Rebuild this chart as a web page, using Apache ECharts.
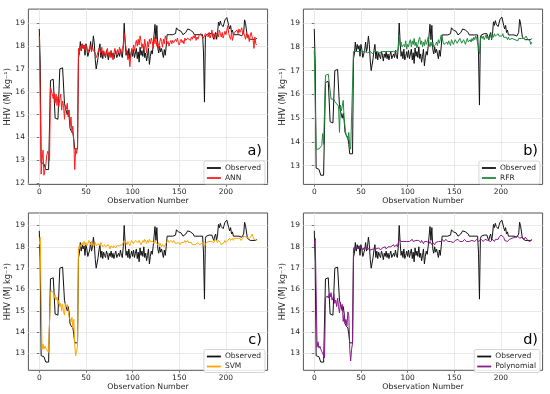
<!DOCTYPE html>
<html>
<head>
<meta charset="utf-8">
<script src="https://cdn.jsdelivr.net/npm/echarts@6/dist/echarts.min.js"></script>
<style>html,body{margin:0;padding:0;background:#fff;}#c{width:550px;height:394px;}</style>
</head>
<body>
<div id="c"></div>
<script>
var xTicks = [0, 50, 100, 150, 200];
var yTicksA = [12, 13, 14, 15, 16, 17, 18, 19];
var yTicksB = [13, 14, 15, 16, 17, 18, 19];

var observed = [
18.75,17.3,12.9,12.85,12.85,12.85,12.85,12.6,12.6,12.55,
12.6,12.6,16.5,16.55,16.5,16.55,16.55,14.85,14.8,14.85,
14.8,14.8,17.0,17.05,17.0,17.05,17.0,15.5,15.3,15.3,
15.0,15.2,14.9,14.4,14.3,14.3,14.2,13.9,13.5,13.5,
13.5,13.5,17.5,17.7,18.2,17.8,18.1,17.9,18.05,17.6,
18.1,17.9,17.55,17.6,17.85,18.2,17.8,18.0,18.45,18.1,
17.4,17.0,17.0,17.5,17.85,18.1,17.5,17.8,17.45,17.75,
17.6,17.5,17.8,17.65,17.4,17.7,17.55,17.8,17.5,17.7,
17.45,17.65,17.8,17.5,17.45,17.7,17.55,17.85,17.6,17.5,
18.0,19.0,18.2,17.6,17.8,17.5,17.9,17.45,17.6,17.8,
17.55,17.85,17.5,17.7,17.9,17.45,17.75,17.3,17.95,17.6,
17.8,17.55,18.0,17.5,17.7,17.35,17.6,17.9,17.2,17.55,
17.8,17.65,18.0,18.5,18.95,18.3,18.9,17.9,17.7,18.0,
17.75,17.9,17.7,17.5,17.85,17.6,18.0,18.5,18.5,18.45,
18.5,18.55,18.5,18.5,18.45,18.5,18.55,18.8,18.75,18.7,
18.7,18.7,18.65,18.7,18.5,18.5,18.5,18.6,18.65,18.75,
18.75,18.75,18.7,18.75,18.75,18.6,18.5,18.5,18.45,18.5,
18.5,18.55,18.5,18.5,18.55,18.5,17.7,15.55,18.4,18.5,
18.55,18.5,18.55,18.55,18.5,18.55,18.4,18.3,18.5,18.6,
18.3,18.55,19.05,18.9,19.1,18.95,19.0,18.85,19.0,19.15,
19.1,19.25,19.2,18.9,18.75,18.9,18.6,18.7,18.5,18.5,
18.55,18.5,18.5,18.45,18.5,18.55,18.5,18.45,18.5,18.6,
19.15,19.0,19.05,18.4,18.35,18.35,18.3,18.35,18.35,18.3,
18.35,18.3,18.3,18.35
];

var ann = [
18.45,15.8,12.4,13.0,13.45,12.35,12.3,12.8,13.2,13.4,13.3,13.0,
16.2,16.2,16.15,15.7,15.95,15.5,15.9,15.4,15.8,15.35,
15.7,15.9,15.2,15.6,15.4,14.8,15.4,15.25,15.5,14.9,
15.2,14.5,14.9,14.2,14.5,13.8,12.6,13.5,13.3,13.6,
17.9,17.7,18.0,17.85,18.1,17.9,18.05,17.8,18.05,17.95,
17.7,17.85,17.9,18.0,17.75,17.95,17.8,17.85,17.7,17.5,
17.6,17.75,17.9,17.85,17.7,17.95,17.6,17.8,17.75,17.55,
17.8,17.9,17.6,17.75,17.5,17.8,17.65,17.4,17.7,17.9,
17.75,17.6,17.85,17.7,17.95,17.8,17.65,17.9,18.0,18.55,
18.2,17.9,17.7,17.4,17.6,17.1,17.5,17.9,17.75,18.05,
17.8,18.1,18.25,18.0,18.3,18.05,18.45,18.2,17.9,18.1,
17.85,18.3,18.0,17.7,18.2,17.95,18.3,18.1,18.35,18.2,
17.9,18.4,18.1,18.3,18.0,18.2,17.9,18.15,18.35,18.2,
17.95,18.3,18.1,18.45,18.3,18.1,18.2,18.0,18.15,18.25,
18.1,18.25,18.15,18.1,18.3,18.2,18.35,18.15,18.05,18.2,
18.3,18.15,18.25,18.1,18.35,18.25,18.2,18.35,18.3,18.4,
18.25,18.4,18.3,18.45,18.35,18.5,18.25,18.4,18.3,18.45,
18.4,18.55,18.45,18.5,18.35,18.4,18.55,18.5,18.55,18.4,
18.6,18.35,18.5,18.7,18.4,18.55,18.3,18.5,18.45,18.6,
18.4,18.7,18.55,18.4,18.6,18.35,18.5,18.65,18.5,18.45,
18.9,18.55,18.4,18.3,18.6,18.25,18.45,18.6,18.55,18.65,
18.7,18.55,18.75,18.6,18.7,18.8,18.5,18.6,18.45,18.3,
18.55,18.35,18.5,18.2,18.45,18.6,18.4,18.3,17.9,18.4,18.1,18.05
];

var rfr = [
17.85,17.8,13.7,13.7,13.7,13.7,13.7,13.75,13.85,14.35,13.9,13.85,
16.8,16.85,16.8,16.85,16.8,16.8,15.8,15.8,15.75,15.8,
15.7,15.65,15.6,15.65,15.5,14.4,15.55,15.3,15.5,15.75,
15.0,14.6,14.3,14.35,14.1,14.4,13.8,13.7,13.65,13.7,
17.8,17.75,17.8,17.8,17.75,17.8,17.8,17.75,17.8,17.8,
17.8,17.75,17.8,17.8,17.8,17.75,17.8,17.8,17.8,17.75,
17.75,17.7,17.8,17.8,17.75,17.8,17.8,17.8,17.75,17.8,
17.8,17.8,17.75,17.8,17.8,17.8,17.75,17.8,17.8,17.75,
17.8,17.8,17.85,17.8,17.8,17.85,17.8,17.85,17.9,18.5,
18.05,18.2,18.0,17.95,18.1,18.0,18.25,17.9,18.1,18.0,
18.2,18.3,18.0,18.25,18.1,18.35,18.05,18.2,17.95,18.1,
18.3,18.4,18.1,18.25,18.0,18.2,18.05,18.3,18.1,18.2,
18.4,18.15,18.0,18.2,18.05,18.2,18.0,17.95,18.1,18.2,
18.05,18.3,18.15,18.3,18.5,18.4,18.2,18.1,18.05,18.15,
18.2,18.1,18.25,18.15,18.05,18.3,18.2,18.1,18.15,18.3,
18.25,18.15,18.1,18.2,18.35,18.25,18.15,18.2,18.3,18.2,
18.1,18.25,18.35,18.2,18.15,18.3,18.2,18.35,18.25,18.4,
18.3,18.45,18.35,18.3,18.0,17.7,18.3,18.45,18.35,18.45,
18.3,18.4,18.5,18.35,18.45,18.3,18.4,18.5,18.35,18.5,
18.4,18.55,18.45,18.5,18.4,18.55,18.45,18.4,18.5,18.45,
18.55,18.4,18.45,18.35,18.4,18.3,18.4,18.3,18.35,18.3,
18.35,18.3,18.4,18.3,18.35,18.3,18.25,18.35,18.3,18.4,
18.35,18.3,18.4,18.35,18.3,18.45,18.35,18.3,18.4,18.25,18.1,18.2
];

var svm = [
18.1,18.45,15.5,13.2,13.45,13.2,13.35,13.25,13.3,13.3,13.05,13.0,
15.85,15.95,16.0,15.85,15.6,15.75,15.5,15.65,15.3,15.5,
15.2,15.35,15.0,15.3,14.95,14.8,15.35,15.2,15.3,15.0,
14.7,14.6,14.5,14.7,14.2,14.6,13.4,12.9,13.1,13.4,
18.0,17.9,18.1,18.0,18.2,18.1,18.25,18.1,18.2,18.05,
18.15,18.3,18.2,18.1,18.25,18.15,18.0,18.1,18.2,18.05,
18.0,18.15,18.1,18.05,18.2,18.1,18.0,17.95,18.1,18.0,
18.05,17.95,18.1,18.0,17.9,18.05,18.0,17.95,18.05,18.0,
17.95,18.05,18.1,18.0,18.05,18.1,18.0,18.1,18.15,18.3,
18.3,18.2,18.1,18.25,18.15,18.05,18.2,18.3,18.25,18.15,
18.2,18.3,18.25,18.35,18.2,18.3,18.25,18.1,18.2,18.3,
18.2,18.35,18.25,18.15,18.3,18.2,18.35,18.25,18.2,18.3,
18.25,18.15,18.3,18.2,18.25,18.1,18.2,18.05,18.15,18.0,
18.1,18.05,18.0,18.1,18.2,18.25,18.3,18.2,18.25,18.3,
18.25,18.2,18.3,18.25,18.15,18.2,18.1,18.2,18.15,18.1,
18.2,18.25,18.15,18.2,18.3,18.2,18.25,18.3,18.2,18.25,
18.15,18.2,18.1,18.15,18.05,18.1,18.15,18.1,18.2,18.15,
18.1,18.15,18.1,18.2,18.1,18.0,18.15,18.2,18.15,18.25,
18.2,18.3,18.25,18.2,18.3,18.2,18.25,18.35,18.3,18.2,
18.3,18.25,18.2,18.1,18.15,18.1,18.2,18.3,18.2,18.25,
18.3,18.35,18.4,18.3,18.35,18.4,18.3,18.4,18.35,18.45,
18.4,18.35,18.45,18.4,18.3,18.35,18.4,18.5,18.45,18.5,
18.45,18.5,18.45,18.4,18.45,18.5,18.6,18.55,18.35,18.3,18.35,18.3
];

var poly = [
18.1,18.4,16.0,13.3,13.55,13.25,13.35,13.2,13.1,13.0,12.9,12.8,
15.6,15.55,15.7,15.6,15.8,15.65,15.85,15.5,15.6,15.8,
15.35,15.5,15.2,15.6,15.2,14.9,15.4,15.2,15.3,14.5,
14.8,14.4,14.6,14.3,14.95,14.8,13.2,12.65,13.2,13.5,
17.9,18.0,17.85,17.95,17.9,18.0,17.95,17.9,18.0,17.95,
17.85,17.95,18.0,17.9,17.95,17.85,17.9,17.95,17.85,17.8,
17.85,17.9,17.85,17.95,17.9,17.85,17.9,17.95,17.9,17.85,
17.9,17.95,17.9,17.95,18.0,17.9,17.95,18.0,17.95,18.05,
18.0,17.95,18.05,18.1,18.0,18.05,18.1,18.0,18.05,18.35,
18.3,18.25,18.2,18.3,18.25,18.2,18.3,18.25,18.2,18.3,
18.25,18.2,18.3,18.35,18.25,18.3,18.2,18.3,18.25,18.35,
18.3,18.25,18.2,18.3,18.25,18.15,18.25,18.2,18.3,18.25,
18.2,18.15,18.25,18.2,18.1,18.2,18.15,18.1,18.2,18.15,
18.2,18.25,18.2,18.3,18.25,18.35,18.3,18.25,18.3,18.35,
18.3,18.25,18.3,18.2,18.25,18.3,18.25,18.2,18.25,18.3,
18.25,18.3,18.35,18.3,18.25,18.3,18.2,18.25,18.3,18.35,
18.3,18.25,18.3,18.2,18.25,18.3,18.25,18.3,18.35,18.3,
18.25,18.3,18.35,18.3,18.25,18.2,18.3,18.35,18.3,18.25,
18.3,18.35,18.3,18.4,18.3,18.35,18.3,18.25,18.3,18.35,
18.3,18.25,18.35,18.3,18.4,18.35,18.45,18.5,18.55,18.6,
18.6,18.45,18.3,18.35,18.3,18.25,18.3,18.35,18.4,18.35,
18.4,18.45,18.4,18.45,18.4,18.45,18.5,18.45,18.4,18.45,
18.4,18.45,18.4,18.35,18.45,18.4,18.35,18.3,18.25,18.3,18.25,18.3
];

var panels = [
  {name: 'ANN', data: ann, color: '#ff1a1a', label: 'a)', left: 28.4, top: 9.1, h: 175.3, ymin: 11.95, ymax: 19.62, yt: yTicksA},
  {name: 'RFR', data: rfr, color: '#1f8a3e', label: 'b)', left: 303.4, top: 9.1, h: 175.3, ymin: 12.215, ymax: 19.585, yt: yTicksB},
  {name: 'SVM', data: svm, color: '#ffa500', label: 'c)', left: 28.4, top: 213, h: 157.3, ymin: 12.215, ymax: 19.585, yt: yTicksB},
  {name: 'Polynomial', data: poly, color: '#8b1a8b', label: 'd)', left: 303.4, top: 213, h: 157.3, ymin: 12.215, ymax: 19.585, yt: yTicksB}
];

function pairs(arr) { return arr.map(function (v, i) { return [i, v]; }); }

var FONT = 'DejaVu Sans';
var TXT = '#262626';
var grids = [], xAxes = [], yAxes = [], series = [], legends = [], graphics = [];
panels.forEach(function (p, k) {
  grids.push({left: p.left, top: p.top, width: 239.2, height: p.h, show: true, borderColor: '#555', borderWidth: 1, backgroundColor: '#fff'});
  xAxes.push({
    type: 'value', gridIndex: k, min: -11.65, max: 244.65,
    name: 'Observation Number', nameLocation: 'middle', nameGap: 12.5,
    nameTextStyle: {fontFamily: FONT, fontSize: 7.8, color: TXT},
    axisLine: {show: false},
    axisTick: {show: true, length: 2.5, customValues: xTicks, lineStyle: {color: '#555', width: 0.8}},
    axisLabel: {customValues: xTicks, fontFamily: FONT, fontSize: 7.5, color: TXT, margin: 3.5},
    splitLine: {show: true, lineStyle: {color: '#e3e3e3', width: 0.8}}
  });
  yAxes.push({
    type: 'value', gridIndex: k, min: p.ymin, max: p.ymax,
    name: 'HHV (MJ kg\u207B\u00B9)', nameLocation: 'middle', nameGap: 14,
    nameTextStyle: {fontFamily: FONT, fontSize: 8.3, color: TXT},
    axisLine: {show: false},
    axisTick: {show: true, length: 2.5, customValues: p.yt, lineStyle: {color: '#555', width: 0.8}},
    axisLabel: {customValues: p.yt, fontFamily: FONT, fontSize: 7.5, color: TXT, margin: 3.5},
    splitLine: {show: true, lineStyle: {color: '#e3e3e3', width: 0.8}}
  });
  series.push({
    name: 'Observed', type: 'line', xAxisIndex: k, yAxisIndex: k, data: pairs(observed),
    symbol: 'none', lineStyle: {color: '#111', width: 1}, itemStyle: {color: '#111'}, z: 2
  });
  series.push({
    name: p.name, type: 'line', xAxisIndex: k, yAxisIndex: k, data: pairs(p.data),
    symbol: 'none', lineStyle: {color: p.color, width: 1}, itemStyle: {color: p.color}, z: 3
  });
  var right = (k % 2 === 0) ? 285 : 10;
  var ltop = (k < 2) ? 161 : 349.5;
  legends.push({
    data: ['Observed', p.name], orient: 'vertical', right: right, top: ltop,
    icon: 'rect', itemWidth: 14, itemHeight: 1.8, itemGap: 2,
    padding: [3, 4, 2, 3], backgroundColor: 'rgba(255,255,255,0.85)',
    borderColor: '#cccccc', borderWidth: 0.8, borderRadius: 2,
    textStyle: {fontFamily: FONT, fontSize: 7.5, color: TXT, padding: [0, 0, 0, -1]},
    selectedMode: false
  });
  graphics.push({
    type: 'text', right: (k % 2 === 0) ? 288 : 12, top: (k < 2) ? 144 : 333,
    style: {text: p.label, font: '14.5px "DejaVu Sans"', fill: '#000'}, z: 100
  });
});

var chart = echarts.init(document.getElementById('c'), null, {renderer: 'canvas'});
chart.setOption({
  animation: false,
  backgroundColor: '#fff',
  grid: grids, xAxis: xAxes, yAxis: yAxes, series: series, legend: legends, graphic: graphics
});
</script>
</body>
</html>
